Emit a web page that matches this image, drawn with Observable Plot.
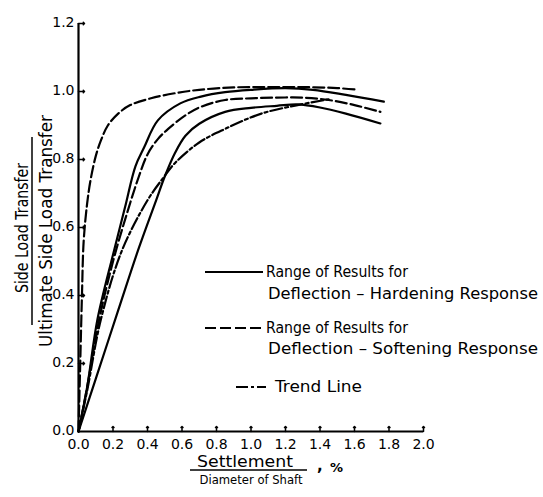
<!DOCTYPE html>
<html>
<head>
<meta charset="utf-8">
<script src="https://cdn.jsdelivr.net/npm/d3@7"></script>
<script src="https://cdn.jsdelivr.net/npm/@observablehq/plot@0.6"></script>
<style>
  body { margin: 0; background: #fff; }
  #chart { width: 543px; height: 497px; }
</style>
</head>
<body>
<div id="chart"></div>
<script>
// ---- tick values ----
const xTicks = [0, 0.2, 0.4, 0.6, 0.8, 1.0, 1.2, 1.4, 1.6, 1.8, 2.0];
const yTicks = [0, 0.2, 0.4, 0.6, 0.8, 1.0, 1.2];

// ---- curves (settlement/diameter %, normalized side load) ----
// Deflection-softening, upper bound (dashed)
const softUpperX = [0, 0.01, 0.02, 0.03, 0.05, 0.07, 0.1, 0.13, 0.17, 0.23, 0.3, 0.42, 0.56, 0.7, 0.9, 1.1, 1.3, 1.5, 1.62];
const softUpperY = [0, 0.2, 0.4, 0.56, 0.67, 0.74, 0.81, 0.856, 0.9, 0.935, 0.96, 0.98, 0.995, 1.005, 1.012, 1.013, 1.013, 1.01, 1.005];
// Deflection-softening, lower bound (dashed)
const softLowerX = [0, 0.05, 0.12, 0.2, 0.28, 0.35, 0.4, 0.46, 0.52, 0.62, 0.71, 0.85, 1.0, 1.15, 1.3, 1.45, 1.6, 1.75];
const softLowerY = [0, 0.13, 0.33, 0.5, 0.64, 0.75, 0.815, 0.86, 0.89, 0.93, 0.955, 0.975, 0.98, 0.982, 0.982, 0.975, 0.96, 0.94];
// Deflection-hardening, upper bound (solid)
const hardUpperX = [0, 0.05, 0.11, 0.2, 0.27, 0.33, 0.38, 0.46, 0.59, 0.71, 0.85, 1.0, 1.2, 1.36, 1.55, 1.77];
const hardUpperY = [0, 0.13, 0.33, 0.52, 0.66, 0.78, 0.835, 0.915, 0.965, 0.985, 0.998, 1.005, 1.01, 1.005, 0.99, 0.97];
// Deflection-hardening, lower bound (solid)
const hardLowerX = [0, 0.1, 0.23, 0.35, 0.45, 0.5, 0.56, 0.62, 0.7, 0.85, 1.0, 1.15, 1.27, 1.4, 1.55, 1.75];
const hardLowerY = [0, 0.155, 0.356, 0.54, 0.68, 0.75, 0.82, 0.87, 0.905, 0.94, 0.952, 0.958, 0.962, 0.953, 0.935, 0.906];
// Trend line (dash-dot)
const trendX = [0, 0.05, 0.13, 0.25, 0.4, 0.49, 0.56, 0.7, 0.85, 1.06, 1.27, 1.45];
const trendY = [0, 0.12, 0.33, 0.53, 0.68, 0.745, 0.79, 0.85, 0.89, 0.935, 0.96, 0.977];

// ---- texts ----
const hardLegend = ["Range of Results for", "Deflection \u2013 Hardening Response"];
const softLegend = ["Range of Results for", "Deflection \u2013 Softening Response"];
const trendLegend = ["Trend Line"];
const yLabelTop = "Side Load Transfer";
const yLabelBottom = "Ultimate Side Load Transfer";
const xLabelTop = "Settlement";
const xLabelBottom = "Diameter of Shaft";
const xLabelComma = ",";
const xLabelUnit = "%";

// ---- styles ----
const solidDash = null;
const softDash = "11,4";
const trendDash = "12,3,3,3";

function rows(name, xs, ys) { return xs.map((x, i) => ({curve: name, x, y: ys[i]})); }
const solidRows = [...rows("hardUpper", hardUpperX, hardUpperY), ...rows("hardLower", hardLowerX, hardLowerY)];
const softRows = [...rows("softUpper", softUpperX, softUpperY), ...rows("softLower", softLowerX, softLowerY)];
const trendRows = rows("trend", trendX, trendY);

const lineOpts = {x: "x", y: "y", z: "curve", stroke: "#000", strokeWidth: 2.2, curve: "catmull-rom"};

const chart = Plot.plot({
  width: 543,
  height: 497,
  marginLeft: 78,
  marginRight: 120,
  marginTop: 23,
  marginBottom: 66,
  style: {fontFamily: "DejaVu Sans", fontSize: "14px", background: "#fff", color: "#000"},
  x: {domain: [0, 2]},
  y: {domain: [0, 1.2]},
  marks: [
    Plot.axisX({ticks: xTicks, tickSize: 0, tickPadding: 8, tickFormat: d => d.toFixed(1), label: null, fontSize: 14}),
    Plot.axisY({ticks: yTicks, tickSize: 0, tickPadding: 4, dy: -1, tickFormat: d => d.toFixed(1), label: null, fontSize: 14}),
    // inward tick marks
    Plot.vector(xTicks.slice(1), {x: d => d, y: 0, length: 5, rotate: 0, anchor: "start", stroke: "#000", strokeWidth: 1.5}),
    Plot.vector(yTicks.slice(1), {x: 0, y: d => d, length: 6, rotate: 90, anchor: "start", stroke: "#000", strokeWidth: 1.5}),
    Plot.ruleY([0], {stroke: "#000", strokeWidth: 2.2}),
    Plot.ruleX([0], {stroke: "#000", strokeWidth: 2.2}),
    Plot.line(solidRows, {...lineOpts}),
    Plot.line(softRows, {...lineOpts, strokeDasharray: softDash}),
    Plot.line(trendRows, {...lineOpts, strokeDasharray: trendDash})
  ]
});

document.getElementById("chart").appendChild(chart);

// ---- legend and axis titles (drawn on top of the plot SVG) ----
const svg = d3.select(chart);
const g = svg.append("g").attr("font-family", "DejaVu Sans").attr("fill", "#000").attr("text-anchor", "start");

function label(x, y, s, len, size, anchor, rotate, family) {
  const t = g.append("text")
    .attr("x", x).attr("y", y)
    .attr("font-size", size)
    .attr("text-anchor", anchor)
    .attr("textLength", len)
    .attr("lengthAdjust", "spacingAndGlyphs")
    .text(s);
  if (family) t.attr("font-family", family);
  if (rotate) t.attr("transform", `rotate(-90 ${x} ${y})`);
  return t;
}
function sample(x1, x2, y, dash) {
  const l = g.append("line").attr("x1", x1).attr("x2", x2).attr("y1", y).attr("y2", y)
    .attr("stroke", "#000").attr("stroke-width", 2.2);
  if (dash) l.attr("stroke-dasharray", dash);
}

// legend
sample(205, 263, 272, solidDash);
label(266, 277, hardLegend[0], 142, 15, "start");
label(268, 299, hardLegend[1], 270, 15, "start");
sample(205, 263, 328, softDash);
label(266, 333, softLegend[0], 142, 15, "start");
label(268, 354, softLegend[1], 270, 15, "start");
sample(236, 266, 387, trendDash);
label(275, 392, trendLegend[0], 87, 15, "start");

// x-axis title (fraction)
label(245, 467, xLabelTop, 96, 15, "middle");
g.append("line").attr("x1", 190).attr("x2", 307).attr("y1", 470).attr("y2", 470).attr("stroke", "#000").attr("stroke-width", 1.5);
label(251, 484, xLabelBottom, 103, 13, "middle", false, "DejaVu Sans Condensed");
g.append("text").attr("x", 317).attr("y", 471).attr("font-size", 15).attr("font-weight", "bold").attr("text-anchor", "start").text(xLabelComma);
g.append("text").attr("x", 330).attr("y", 472).attr("font-size", 13).attr("font-weight", "bold").attr("text-anchor", "start").text(xLabelUnit);

// y-axis title (fraction, rotated)
label(28, 228, yLabelTop, 130, 17, "middle", true);
g.append("line").attr("x1", 32).attr("x2", 32).attr("y1", 137).attr("y2", 325).attr("stroke", "#000").attr("stroke-width", 1.5);
label(52, 231, yLabelBottom, 232, 17, "middle", true);
</script>
</body>
</html>
